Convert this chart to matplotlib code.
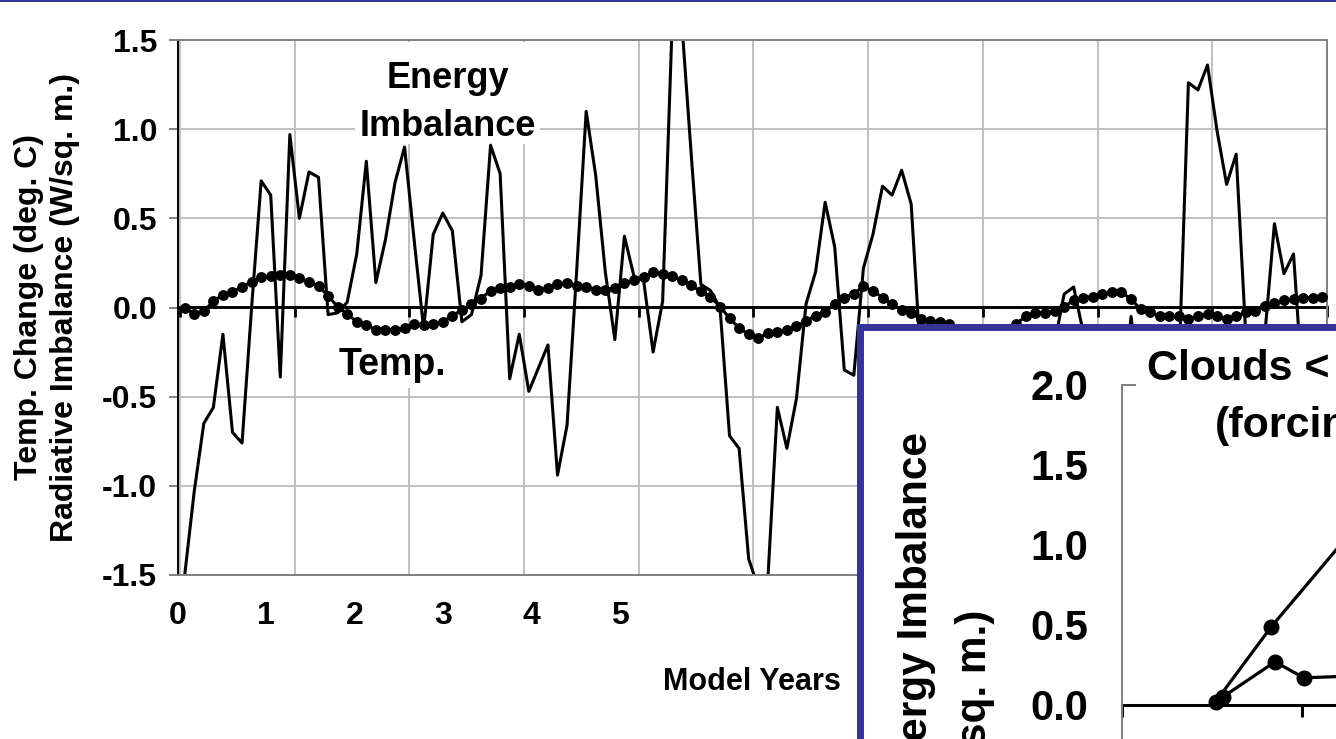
import matplotlib
matplotlib.use("Agg")
import matplotlib.pyplot as plt
import numpy as np
from matplotlib.patches import Rectangle

plt.rcParams["font.family"] = ["Liberation Sans", "DejaVu Sans"]
plt.rcParams["font.weight"] = "bold"

W, H = 1336, 739

# monthly model output (120 months)
temp = [
    0.00, -0.035, -0.02, 0.035, 0.072, 0.088, 0.116, 0.145, 0.17, 0.178,
    0.18, 0.18, 0.165, 0.145, 0.12, 0.065, 0.005, -0.036, -0.08, -0.10,
    -0.125, -0.125, -0.125, -0.115, -0.09, -0.10, -0.09, -0.08, -0.045, -0.015,
    0.02, 0.05, 0.095, 0.11, 0.115, 0.13, 0.12, 0.10, 0.11, 0.13,
    0.135, 0.12, 0.115, 0.10, 0.10, 0.11, 0.135, 0.155, 0.17, 0.197,
    0.19, 0.175, 0.155, 0.125, 0.09, 0.06, 0.005, -0.06, -0.115, -0.15,
    -0.17, -0.145, -0.135, -0.125, -0.105, -0.075, -0.045, -0.025, 0.02, 0.055,
    0.078, 0.118, 0.093, 0.056, 0.02, -0.015, -0.03, -0.065, -0.075, -0.08,
    -0.09, -0.12, -0.14, -0.15, -0.15, -0.14, -0.12, -0.09, -0.05, -0.03,
    -0.03, -0.02, 0.005, 0.04, 0.056, 0.06, 0.075, 0.088, 0.085, 0.047,
    -0.01, -0.028, -0.047, -0.05, -0.047, -0.065, -0.047, -0.037, -0.047, -0.065,
    -0.047, -0.028, -0.019, 0.01, 0.028, 0.04, 0.047, 0.056, 0.056, 0.06,
]
imbalance = [
    -1.50, -1.03, -0.65, -0.56, -0.15, -0.70, -0.76, 0.00, 0.71, 0.63,
    -0.39, 0.97, 0.50, 0.76, 0.73, -0.04, -0.03, 0.03, 0.30, 0.82,
    0.14, 0.38, 0.70, 0.90, 0.38, -0.12, 0.41, 0.53, 0.43, -0.08,
    -0.04, 0.18, 0.91, 0.75, -0.40, -0.15, -0.47, -0.34, -0.21, -0.94,
    -0.66, 0.20, 1.10, 0.74, 0.20, -0.18, 0.40, 0.175, 0.155, -0.25,
    0.035, 1.60, 1.60, 0.85, 0.13, 0.095, 0.00, -0.72, -0.79, -1.41,
    -1.57, -1.53, -0.56, -0.79, -0.51, 0.02, 0.20, 0.59, 0.34, -0.35,
    -0.38, 0.22, 0.41, 0.68, 0.63, 0.77, 0.58, -0.30, -0.60, -0.40,
    -0.70, -0.50, -0.90, -0.60, -0.40, -0.80, -0.50, -0.30, -0.60, -0.40,
    -0.30, -0.20, 0.075, 0.115, -0.14, -0.40, -0.70, -0.50, -0.60, -0.05,
    -0.50, -0.80, -0.60, -0.40, -0.35, 1.26, 1.22, 1.36, 0.99, 0.69,
    0.86, -0.15, -0.60, -0.15, 0.47, 0.19, 0.30, -0.50, -0.60, -0.40,
]
year_labels = ["0", "1", "2", "3", "4", "5"]

# small chart: clouds vs temperature
cloud_x_a = [0.52, 0.83, 1.40]
cloud_y_a = [0.02, 0.49, 1.25]
cloud_x_b = [0.56, 0.85, 1.01, 1.50]
cloud_y_b = [0.05, 0.27, 0.17, 0.19]
inset_yticks = [0.0, 0.5, 1.0, 1.5, 2.0]

GRID = "#c0c0c0"
GRAY = "#808080"
BLUE = "#333399"


def box(left, top, right, bottom):
  # pixel rectangle -> figure fraction
  return [left / W, 1 - bottom / H, (right - left) / W, (bottom - top) / H]


def fx(px):
  return px / W


def fy(py):
  return 1 - py / H


def white_patch(axis, left, top, right, bottom):
  # blank area behind a label so the grid stops there
  axis.add_artist(Rectangle((fx(left), fy(bottom)), fx(right) - fx(left),
                            fy(top) - fy(bottom), transform=fig.transFigure,
                            fc="white", ec="none", zorder=1))


fig = plt.figure(figsize=(W / 100, H / 100), dpi=100)

################################ main chart
ax = fig.add_axes(box(178, 40, 1327, 575))
ax.set_zorder(0)
months = np.arange(len(temp)) + 0.5
ax.plot(months, imbalance, color="black", lw=2.2, zorder=2)
ax.plot(months, temp, color="black", lw=2.2, marker="o", ms=6.8, zorder=3)
ax.set_xlim(0, 120)
ax.set_ylim(-1.5, 1.5)

yt = np.arange(-1.5, 1.51, 0.5)
ax.set_yticks(yt, [f"{v:.1f}" for v in yt])
ax.tick_params(axis="y", length=6.5, width=1.4, color=GRAY, pad=8.5, labelsize=23)

ax.set_xticks([k * 9.24 - 0.2 for k in range(len(year_labels))], year_labels)
ax.set_xticks(np.arange(0, 121, 12), minor=True)
ax.tick_params(axis="x", which="both", length=0, pad=19, labelsize=23)

ax.grid(axis="y", color=GRID, lw=1.4)
ax.grid(axis="x", which="minor", color=GRID, lw=1.4)
ax.set_axisbelow(True)
for s in ["top", "right", "bottom"]:
  ax.spines[s].set_color(GRAY)
  ax.spines[s].set_linewidth(1.4)
ax.spines["left"].set_color("black")
ax.spines["left"].set_linewidth(1.4)

# zero line with its own ticks
zero = ax.secondary_xaxis(0.5)
zero.set_xticks(np.arange(0, 121, 12))
zero.tick_params(direction="in", length=7.5, width=2.0, color="black",
                 labeltop=False, labelbottom=False)
for s in ["top", "bottom"]:
  zero.spines[s].set_linewidth(2.1)
zero.set_zorder(1)

white_patch(ax, 355, 42, 540, 144)
white_patch(ax, 331, 334, 453, 388)
ax.text(fx(448), fy(61), "Energy\nImbalance", transform=fig.transFigure,
        ha="center", va="top", fontsize=26, linespacing=1.5, zorder=1.5)
ax.text(fx(392), fy(375), "Temp.", transform=fig.transFigure,
        ha="center", va="baseline", fontsize=27, zorder=1.5)

fig.text(fx(752), fy(690), "Model Years", ha="center", va="baseline", fontsize=22)
fig.text(fx(47), fy(307), "Temp. Change (deg. C)\nRadiative Imbalance (W/sq. m.)",
         rotation=90, ha="center", va="center", fontsize=23, linespacing=1.3,
         multialignment="center")

################################ framed small chart
fig.add_artist(Rectangle((0, fy(2)), 1, 2 / H, transform=fig.transFigure,
                         fc=BLUE, ec="none", zorder=1))
fig.add_artist(Rectangle((fx(860), fy(900)), fx(1500) - fx(860), fy(327) - fy(900),
                         transform=fig.transFigure, fc="white", ec=BLUE, lw=5,
                         zorder=1))

ins = fig.add_axes(box(1122, 385, 1482, 785))
ins.set_zorder(2)
ins.patch.set_visible(False)
ins.plot(cloud_x_a, cloud_y_a, color="black", lw=2.3, marker="o", ms=10.5)
ins.plot(cloud_x_b, cloud_y_b, color="black", lw=2.3, marker="o", ms=10.5)
ins.set_xlim(0, 2)
ins.set_ylim(-0.5, 2.0)
ins.set_xticks([])
ins.set_yticks(inset_yticks, [f"{v:.1f}" for v in inset_yticks])
ins.tick_params(axis="y", length=0, pad=24, labelsize=30)
ins.spines["left"].set_color(GRAY)
ins.spines["left"].set_linewidth(1.4)
ins.spines["top"].set_color(GRAY)
ins.spines["top"].set_linewidth(1.4)
ins.spines["top"].set_bounds(0, 0.07)
ins.spines["right"].set_visible(False)
ins.spines["bottom"].set_visible(False)

ins_zero = ins.secondary_xaxis(0.2)
ins_zero.set_xticks([0, 1, 2])
ins_zero.tick_params(direction="out", length=8.6, width=2.2, color="black",
                     labeltop=False, labelbottom=False)
for s in ["top", "bottom"]:
  ins_zero.spines[s].set_linewidth(2.2)

fig.text(fx(1147), fy(380), "Clouds <", fontsize=31, va="baseline")
fig.text(fx(1215), fy(437), "(forcing)", fontsize=31, va="baseline")
fig.text(fx(916), fy(432), "Energy Imbalance", rotation=90, ha="center",
         va="top", fontsize=30.5)
fig.text(fx(975), fy(610), "(W/sq. m.)", rotation=90, ha="center",
         va="top", fontsize=30.5)

plt.savefig("out.png", dpi=100)
plt.close()
